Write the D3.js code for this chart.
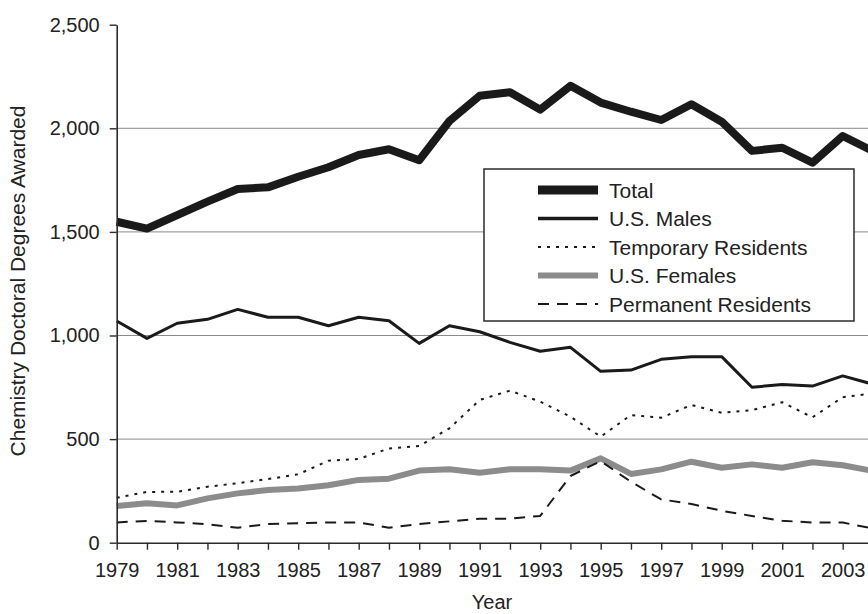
<!DOCTYPE html>
<html>
<head>
<meta charset="utf-8">
<script src="https://cdn.jsdelivr.net/npm/d3@7"></script>
<style>
    html, body { margin: 0; padding: 0; background: #fff; }
    svg { display: block; font-family: "Liberation Sans", Arial, Helvetica, sans-serif; }
</style>
</head>
<body>
<div id="chart"></div>
<script>
// Data
const years = [1979, 1980, 1981, 1982, 1983, 1984, 1985, 1986, 1987, 1988, 1989, 1990, 1991,
    1992, 1993, 1994, 1995, 1996, 1997, 1998, 1999, 2000, 2001, 2002, 2003, 2004];
const total = [1549, 1516, 1581, 1646, 1707, 1715, 1766, 1812, 1871, 1899, 1846, 2035, 2157,
    2174, 2090, 2205, 2124, 2080, 2040, 2116, 2032, 1891, 1906, 1834, 1963, 1890];
const usMales = [1070, 986, 1059, 1078, 1126, 1088, 1088, 1047, 1088, 1071, 962, 1047, 1018,
    967, 924, 943, 827, 833, 885, 898, 898, 750, 764, 756, 805, 765];
const temporaryResidents = [217, 245, 246, 270, 287, 307, 330, 396, 404, 455, 467, 552, 689,
    734, 681, 608, 512, 616, 603, 665, 627, 640, 678, 605, 702, 721];
const usFemales = [177, 190, 180, 214, 238, 254, 262, 277, 303, 309, 348, 354, 338,
    354, 354, 348, 407, 332, 354, 391, 362, 378, 362, 388, 374, 346];
const permanentResidents = [98, 105, 98, 89, 72, 90, 94, 98, 98, 72, 90, 103, 116,
    116, 129, 322, 394, 294, 209, 187, 154, 129, 106, 97, 97, 69];

const xTickYears = [1979, 1980, 1981, 1982, 1983, 1984, 1985, 1986, 1987, 1988, 1989, 1990, 1991,
    1992, 1993, 1994, 1995, 1996, 1997, 1998, 1999, 2000, 2001, 2002, 2003];
const xLabelYears = [1979, 1981, 1983, 1985, 1987, 1989, 1991, 1993, 1995, 1997, 1999, 2001, 2003];
const yTicks = [0, 500, 1000, 1500, 2000, 2500];

// Series styles, in legend order
const series = [
    { name: 'Total', values: total, color: '#1a1a1a', width: 8, dash: null, legendWidth: 9 },
    { name: 'U.S. Males', values: usMales, color: '#1a1a1a', width: 3, dash: null, legendWidth: 3.5 },
    { name: 'Temporary Residents', values: temporaryResidents, color: '#1a1a1a', width: 2, dash: '3,6', legendWidth: 2 },
    { name: 'U.S. Females', values: usFemales, color: '#8c8c8c', width: 6, dash: null, legendWidth: 6 },
    { name: 'Permanent Residents', values: permanentResidents, color: '#1a1a1a', width: 2, dash: '11,8', legendWidth: 2 }
];
const drawOrder = [3, 4, 2, 1, 0];

const width = 868;
const height = 614;
const plotLeft = 116.7;
const plotBottom = 542.7;
const plotTop = 24.7;
const yearStep = 30.25;

const svg = d3.select('#chart')
    .append('svg')
    .attr('width', width)
    .attr('height', height);

const x = d3.scaleLinear()
    .domain([1979, 2004])
    .range([plotLeft, plotLeft + 25 * yearStep]);

const y = d3.scaleLinear()
    .domain([0, 2500])
    .range([plotBottom, plotTop]);

// horizontal grid
svg.append('g')
    .selectAll('line')
    .data(yTicks.filter(d => d > 0 && d < 2500))
    .join('line')
    .attr('x1', plotLeft)
    .attr('x2', width)
    .attr('y1', d => y(d))
    .attr('y2', d => y(d))
    .attr('stroke', '#8a8a8a')
    .attr('stroke-width', 1);

// lines
const line = d3.line()
    .x((d, i) => x(years[i]))
    .y(d => y(d));

drawOrder.forEach(k => {
    const s = series[k];
    svg.append('path')
        .attr('fill', 'none')
        .attr('stroke', s.color)
        .attr('stroke-width', s.width)
        .attr('stroke-linejoin', 'round')
        .attr('stroke-dasharray', s.dash)
        .attr('d', line(s.values));
});

// x axis
const xAxis = svg.append('g')
    .attr('transform', 'translate(0,' + plotBottom + ')')
    .call(d3.axisBottom(x)
        .tickValues(xTickYears)
        .tickFormat(d => xLabelYears.includes(d) ? String(d) : '')
        .tickSize(7)
        .tickSizeOuter(0)
        .tickPadding(13));

// y axis
const yAxis = svg.append('g')
    .attr('transform', 'translate(' + plotLeft + ',0)')
    .call(d3.axisLeft(y)
        .tickValues(yTicks)
        .tickFormat(d3.format(','))
        .tickSize(7)
        .tickSizeOuter(0)
        .tickPadding(10));

[xAxis, yAxis].forEach(ax => {
    ax.select('.domain').attr('stroke', '#2b2b2b').attr('stroke-width', 1.6);
    ax.selectAll('.tick line').attr('stroke', '#2b2b2b').attr('stroke-width', 1.4);
    ax.selectAll('text')
        .style('font-size', '20px')
        .style('font-family', '"Liberation Sans", Arial, sans-serif')
        .attr('fill', '#222');
});

// axis titles
svg.append('text')
    .attr('x', 492)
    .attr('y', 609)
    .attr('text-anchor', 'middle')
    .attr('fill', '#222')
    .style('font-size', '20px')
    .text('Year');

svg.append('text')
    .attr('transform', 'translate(25,281) rotate(-90)')
    .attr('text-anchor', 'middle')
    .attr('fill', '#222')
    .style('font-size', '21px')
    .text('Chemistry Doctoral Degrees Awarded');

// legend
const legend = svg.append('g');
legend.append('rect')
    .attr('x', 484)
    .attr('y', 169)
    .attr('width', 370)
    .attr('height', 152)
    .attr('fill', '#fff')
    .attr('stroke', '#2b2b2b')
    .attr('stroke-width', 1.5);

const rows = legend.selectAll('g.row')
    .data(series)
    .join('g')
    .attr('class', 'row')
    .attr('transform', (d, i) => 'translate(0,' + (190 + i * 28.5) + ')');

rows.append('line')
    .attr('x1', 538)
    .attr('x2', 598)
    .attr('stroke', d => d.color)
    .attr('stroke-width', d => d.legendWidth)
    .attr('stroke-dasharray', d => d.dash);

rows.append('text')
    .attr('x', 609)
    .attr('dy', '0.36em')
    .attr('fill', '#222')
    .style('font-size', '21px')
    .text(d => d.name);
</script>
</body>
</html>
